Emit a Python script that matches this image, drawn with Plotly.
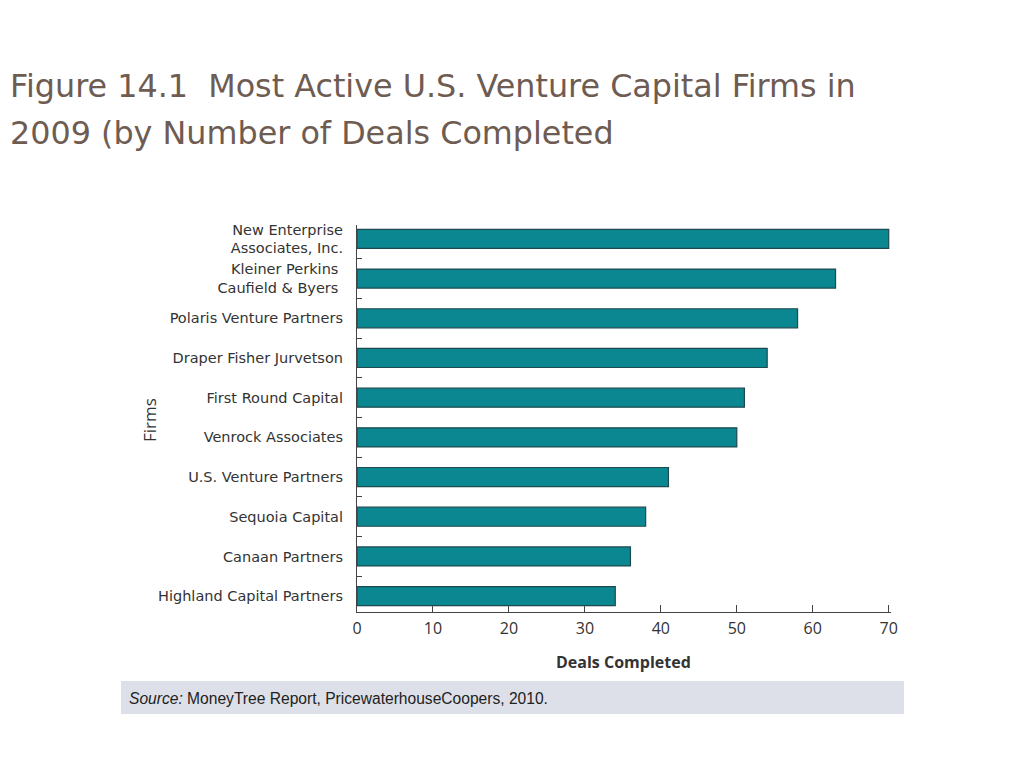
import plotly.graph_objects as go

firms = ["Highland Capital Partners", "Canaan Partners", "Sequoia Capital",
         "U.S. Venture Partners", "Venrock Associates", "First Round Capital",
         "Draper Fisher Jurvetson", "Polaris Venture Partners",
         "Kleiner Perkins <br>Caufield & Byers ", "New Enterprise<br>Associates, Inc."]
deals = [34, 36, 38, 41, 50, 51, 54, 58, 63, 70]
x_ticks = [0, 10, 20, 30, 40, 50, 60, 70]

OFF = 8  # page body margin
W, H = 1024, 768
L, R, T, B = 357 - OFF, 891 - OFF, 225 - OFF, 612 - OFF


def px(x):
    return (x - OFF - L) / (R - L)


def py(y):
    return (B - (y - OFF)) / (B - T)


fig = go.Figure(go.Bar(
    x=deals, y=firms, orientation="h", width=0.48,
    marker=dict(color="#0A8790", line=dict(color="#1D4A4F", width=1.2)),
))

xlabel_font = dict(family="Open Sans, Lato, sans-serif", size=16, color="#333333")
ylabel_font = dict(family="DejaVu Sans, sans-serif", size=14.5, color="#333333")

fig.update_layout(
    width=W, height=H,
    margin=dict(l=L, r=W - R, t=T, b=H - B),
    paper_bgcolor="white", plot_bgcolor="white",
    showlegend=False,
    xaxis=dict(range=[0, 70.3], tickvals=x_ticks, ticks="inside", ticklen=7,
               tickcolor="#444", showline=True, linecolor="#444", linewidth=1.2,
               showgrid=False, zeroline=False, tickfont=xlabel_font,
               ticklabelstandoff=2),
    yaxis=dict(range=[-0.4, 9.35], ticks="inside", tickson="boundaries", ticklen=5,
               tickcolor="#444", showline=True, linecolor="#444", linewidth=1.2,
               showgrid=False, zeroline=False, tickfont=ylabel_font,
               ticklabelstandoff=10),
)

title_font = dict(family="DejaVu Sans, sans-serif", size=31.8, color="#6E5C52")
fig.add_annotation(text="Figure 14.1  Most Active U.S. Venture Capital Firms in",
                   xref="paper", yref="paper", x=px(8), y=py(65),
                   xanchor="left", yanchor="top", showarrow=False, font=title_font)
fig.add_annotation(text="2009 (by Number of Deals Completed",
                   xref="paper", yref="paper", x=px(8), y=py(112),
                   xanchor="left", yanchor="top", showarrow=False, font=title_font)

fig.add_annotation(text="Firms", textangle=-90, xref="paper", yref="paper",
                   x=px(149), y=py(420), xanchor="center", yanchor="middle",
                   showarrow=False,
                   font=dict(family="Open Sans, sans-serif", size=17, color="#333"))
fig.add_annotation(text="<b>Deals Completed</b>", xref="paper", yref="paper",
                   x=px(623), y=py(662), xanchor="center", yanchor="middle",
                   showarrow=False,
                   font=dict(family="Open Sans, sans-serif", size=16, color="#333"))

fig.add_shape(type="rect", xref="paper", yref="paper",
              x0=px(121), x1=px(904), y0=py(714), y1=py(681),
              fillcolor="#DDE0E8", line=dict(width=0), layer="below")
fig.add_annotation(text="<i>Source:</i> MoneyTree Report, PricewaterhouseCoopers, 2010.",
                   xref="paper", yref="paper", x=px(127), y=py(698),
                   xanchor="left", yanchor="middle", showarrow=False,
                   font=dict(family="Liberation Sans, Arial", size=15.6, color="#222"))

fig.write_html("out.html")
